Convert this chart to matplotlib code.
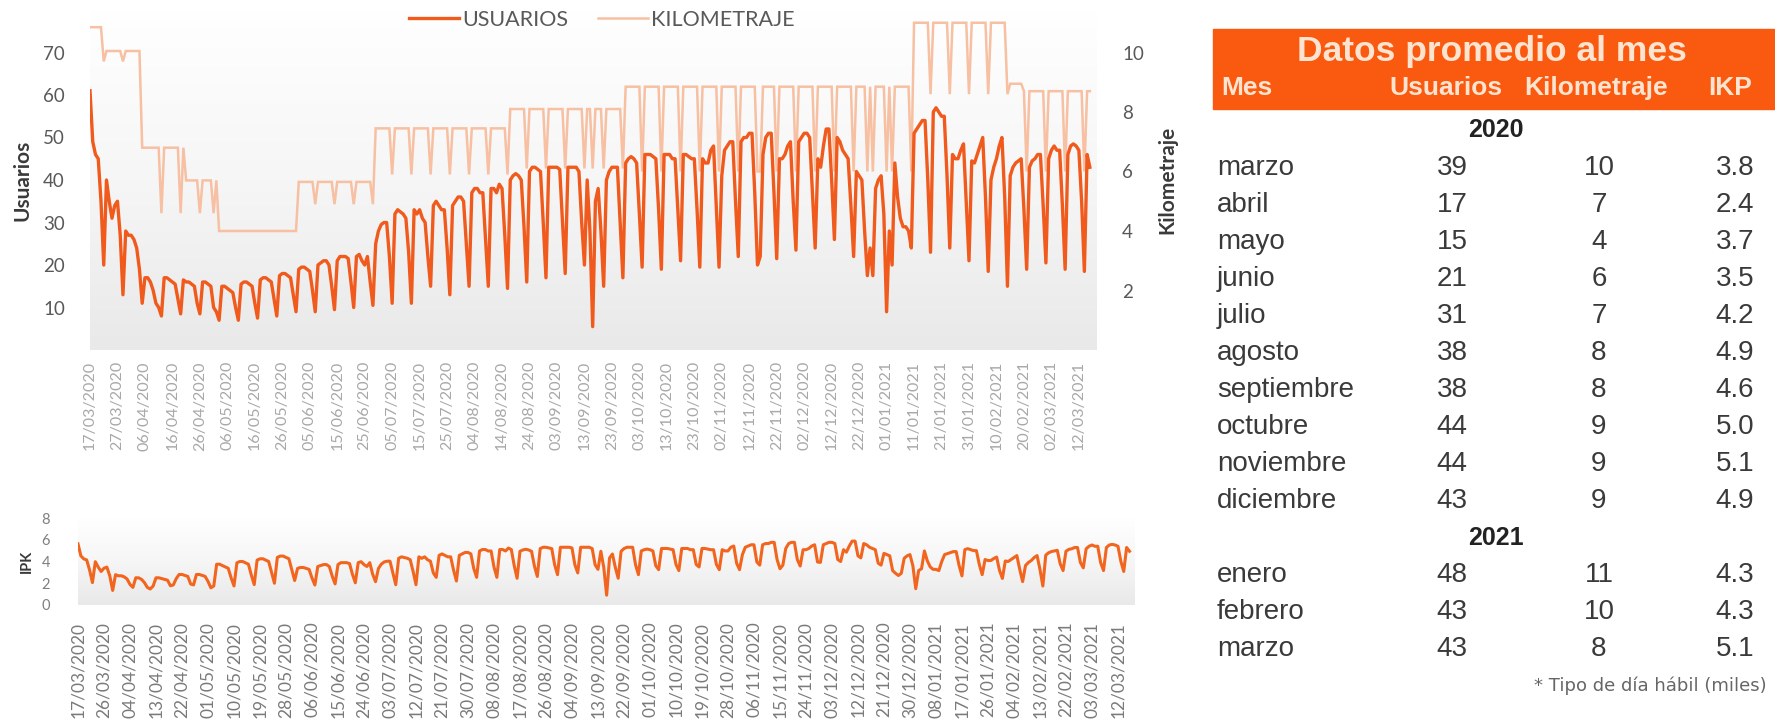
import datetime as dt
import numpy as np
import matplotlib
matplotlib.use('Agg')
import matplotlib.pyplot as plt
from matplotlib.colors import LinearSegmentedColormap
from matplotlib.lines import Line2D
from matplotlib.patches import Rectangle

plt.rcParams['font.family'] = ['Lato', 'DejaVu Sans']

inicio = dt.date(2020, 3, 17)

# usuarios diarios (miles), una fila por semana lunes..domingo
usuarios_sem = [
    [61, 49, 46, 45, 35, 20],
    [40, 35, 31, 34, 35, 27, 13],
    [28, 27, 27, 26, 24, 19, 11],
    [17, 17, 16, 14, 11, 10, 8],
    [17, 17, 16.5, 16, 15.5, 12, 8.5],
    [16.5, 16, 16, 15.5, 15, 11, 8.5],
    [16, 16, 15.5, 15, 10, 9, 7],
    [15, 15, 14.5, 14, 13.5, 10, 7],
    [15.5, 16, 16, 15.5, 15, 11, 7.5],
    [16.5, 17, 17, 16.5, 16, 12, 8],
    [17.5, 18, 18, 17.5, 17, 13, 9],
    [19, 19.5, 19.5, 19, 18.5, 14, 9],
    [20, 20.5, 21, 21, 20, 15, 9.5],
    [21, 22, 22, 22, 21.5, 16, 10],
    [22, 22.5, 21, 20, 22, 16, 10.5],
    [25, 28, 29.5, 30, 30, 22, 11],
    [32, 33, 32.5, 32, 31, 23, 11],
    [33, 32, 33, 31, 30, 22, 15],
    [34, 35, 34, 33, 33, 24, 13],
    [34, 35, 36, 36, 35, 25, 15],
    [37, 38, 38, 37, 37, 26, 15],
    [38, 38, 37, 39, 38, 27, 14.5],
    [40, 41, 41.5, 41, 40, 29, 16],
    [42, 43, 43, 42.5, 42, 30, 17],
    [43, 43, 43, 43, 42.5, 30, 18],
    [43, 43, 43, 43, 42, 30, 20],
    [40, 28, 5.5, 35, 38, 28, 15],
    [40, 42, 43, 43, 43, 30, 17],
    [44, 45, 45.5, 45, 44, 32, 19.5],
    [46, 46, 46, 45.5, 45, 33, 19],
    [46, 46, 46, 45, 45, 33, 21],
    [46, 46, 45.5, 45, 45, 33, 19.5],
    [45, 44, 44, 47, 48, 34, 19.5],
    [41, 47, 48, 49, 49, 35, 22],
    [49, 50, 50, 51, 51, 37, 20],
    [22, 46, 50, 51, 51, 37, 21.5],
    [45, 45, 46, 48, 49, 35, 23.5],
    [49, 50, 51, 51, 50, 37, 24],
    [45, 43, 48, 52, 52, 40, 26],
    [50, 49, 47, 46, 45, 34, 22],
    [42, 41, 40, 28, 17.5, 24, 17.5],
    [38, 40, 41, 32, 9, 28, 20],
    [44, 36, 31, 29, 29, 28, 24],
    [51, 52, 53, 54, 54, 40, 23],
    [56, 57, 56, 55, 55, 41, 24],
    [46, 45, 45, 47, 48.5, 35, 21],
    [44.5, 44, 46, 48, 50, 36, 18.5],
    [40, 43, 45, 48, 50, 36, 15],
    [41, 43, 44, 44.5, 45, 33, 19],
    [43, 44.5, 45, 46, 46, 34, 20.5],
    [45, 47, 48, 47, 47, 34, 19],
    [46, 48, 48.5, 48, 47, 35, 18.5],
    [46, 43],
]

# kilometraje diario (miles de km), misma estructura
km_sem = [
    [10.85, 10.85, 10.85, 10.85, 10.85, 9.7],
    [10.05, 10.05, 10.05, 10.05, 10.05, 10.05, 9.7],
    [10.05, 10.05, 10.05, 10.05, 10.05, 10.05, 6.8],
    [6.8, 6.8, 6.8, 6.8, 6.8, 6.8, 4.6],
    [6.8, 6.8, 6.8, 6.8, 6.8, 6.8, 4.6],
    [6.8, 5.7, 5.7, 5.7, 5.7, 5.7, 4.6],
    [5.7, 5.7, 5.7, 5.7, 4.6, 5.7, 4.0],
    [4.0, 4.0, 4.0, 4.0, 4.0, 4.0, 4.0],
    [4.0, 4.0, 4.0, 4.0, 4.0, 4.0, 4.0],
    [4.0, 4.0, 4.0, 4.0, 4.0, 4.0, 4.0],
    [4.0, 4.0, 4.0, 4.0, 4.0, 4.0, 4.0],
    [5.65, 5.65, 5.65, 5.65, 5.65, 5.65, 4.9],
    [5.65, 5.65, 5.65, 5.65, 5.65, 5.65, 4.9],
    [5.65, 5.65, 5.65, 5.65, 5.65, 5.65, 4.9],
    [5.65, 5.65, 5.65, 5.65, 5.65, 5.65, 4.9],
    [7.45, 7.45, 7.45, 7.45, 7.45, 7.45, 5.9],
    [7.45, 7.45, 7.45, 7.45, 7.45, 7.45, 5.9],
    [7.45, 7.45, 7.45, 7.45, 7.45, 7.45, 5.9],
    [7.45, 7.45, 7.45, 7.45, 7.45, 7.45, 5.9],
    [7.45, 7.45, 7.45, 7.45, 7.45, 7.45, 5.9],
    [7.45, 7.45, 7.45, 7.45, 7.45, 7.45, 5.9],
    [7.45, 7.45, 7.45, 7.45, 7.45, 7.45, 5.9],
    [8.1, 8.1, 8.1, 8.1, 8.1, 8.1, 6.1],
    [8.1, 8.1, 8.1, 8.1, 8.1, 8.1, 6.1],
    [8.1, 8.1, 8.1, 8.1, 8.1, 8.1, 6.1],
    [8.1, 8.1, 8.1, 8.1, 8.1, 8.1, 6.1],
    [8.1, 8.1, 6.1, 8.1, 8.1, 8.1, 6.1],
    [8.1, 8.1, 8.1, 8.1, 8.1, 8.1, 6.1],
    [8.85, 8.85, 8.85, 8.85, 8.85, 8.85, 6.0],
    [8.85, 8.85, 8.85, 8.85, 8.85, 8.85, 6.0],
    [8.85, 8.85, 8.85, 8.85, 8.85, 8.85, 6.0],
    [8.85, 8.85, 8.85, 8.85, 8.85, 8.85, 6.0],
    [8.85, 8.85, 8.85, 8.85, 8.85, 8.85, 6.0],
    [8.85, 8.85, 8.85, 8.85, 8.85, 8.85, 6.0],
    [8.85, 8.85, 8.85, 8.85, 8.85, 8.85, 6.0],
    [6.0, 8.85, 8.85, 8.85, 8.85, 8.85, 6.0],
    [8.85, 8.85, 8.85, 8.85, 8.85, 8.85, 6.0],
    [8.85, 8.85, 8.85, 8.85, 8.85, 8.85, 6.0],
    [8.85, 8.85, 8.85, 8.85, 8.85, 8.85, 6.0],
    [8.85, 8.85, 8.85, 8.85, 8.85, 8.85, 6.0],
    [8.85, 8.85, 8.85, 8.85, 6.0, 8.85, 6.0],
    [8.85, 8.85, 8.85, 8.85, 6.0, 8.85, 6.0],
    [8.85, 8.85, 8.85, 8.85, 8.85, 8.85, 6.0],
    [11.0, 11.0, 11.0, 11.0, 11.0, 11.0, 8.6],
    [11.0, 11.0, 11.0, 11.0, 11.0, 11.0, 8.6],
    [11.0, 11.0, 11.0, 11.0, 11.0, 11.0, 8.6],
    [11.0, 11.0, 11.0, 11.0, 11.0, 11.0, 8.6],
    [11.0, 11.0, 11.0, 11.0, 11.0, 11.0, 8.6],
    [8.95, 8.95, 8.95, 8.95, 8.95, 8.7, 6.0],
    [8.7, 8.7, 8.7, 8.7, 8.7, 8.7, 6.0],
    [8.7, 8.7, 8.7, 8.7, 8.7, 8.7, 6.0],
    [8.7, 8.7, 8.7, 8.7, 8.7, 8.7, 6.0],
    [8.7, 8.7],
]

# promedios mensuales, dia habil (miles)
meses_2020 = ['marzo', 'abril', 'mayo', 'junio', 'julio', 'agosto',
              'septiembre', 'octubre', 'noviembre', 'diciembre']
usu_2020 = [39, 17, 15, 21, 31, 38, 38, 44, 44, 43]
km_2020 = [10, 7, 4, 6, 7, 8, 8, 9, 9, 9]
ipk_2020 = ['3.8', '2.4', '3.7', '3.5', '4.2', '4.9', '4.6', '5.0', '5.1', '4.9']
meses_2021 = ['enero', 'febrero', 'marzo']
usu_2021 = [48, 43, 43]
km_2021 = [11, 10, 8]
ipk_2021 = ['4.3', '4.3', '5.1']

usuarios = np.concatenate([np.array(w, float) for w in usuarios_sem])
kilometraje = np.concatenate([np.array(w, float) for w in km_sem])
ipk = usuarios / kilometraje
dias = np.arange(len(usuarios))

def etiqueta(d):
    return (inicio + dt.timedelta(days=int(d))).strftime('%d/%m/%Y')

W, H = 1775, 720
fig = plt.figure(figsize=(W / 100, H / 100), dpi=100)

def caja(x0, y0, x1, y1):
    return [x0 / W, 1 - y1 / H, (x1 - x0) / W, (y1 - y0) / H]

fondo = LinearSegmentedColormap.from_list('fondo', ['#E9E9E9', '#F6F6F6', '#FFFFFF'])
grad = np.linspace(0, 1, 256).reshape(-1, 1)

naranja = '#F05A1C'
durazno = '#F7C0A2'

# ---- grafica superior: usuarios y kilometraje
ax = fig.add_axes(caja(90, 10, 1097, 350))
ax2 = ax.twinx()
ax.set_zorder(2)
ax2.set_zorder(1)
ax.patch.set_visible(False)

ax2.imshow(grad, extent=[0, 1, 0, 1], transform=ax2.transAxes, aspect='auto',
           cmap=fondo, origin='lower', zorder=0)
ax2.plot(dias, kilometraje, color=durazno, lw=1.8, solid_joinstyle='miter', zorder=2)
ax.plot(dias, usuarios, color=naranja, lw=2.4, solid_joinstyle='round', zorder=3)

ax.set_xlim(0, 366.6)
ax2.set_xlim(0, 366.6)
ax.set_ylim(0, 80)
ax2.set_ylim(0, 80 / 7)
ax.set_yticks(range(10, 80, 10))
ax2.set_yticks(range(2, 12, 2))

ticks_sup = np.arange(0, 361, 10)
ax.set_xticks(ticks_sup)
ax.set_xticklabels([etiqueta(d) for d in ticks_sup], rotation=90)
ax.tick_params(axis='x', length=0, pad=8, labelsize=11.5, labelcolor='#A8A8A8')
ax.tick_params(axis='y', length=0, pad=18, labelsize=13.5, labelcolor='#595959')
ax2.tick_params(axis='y', length=0, pad=18, labelsize=13.5, labelcolor='#595959')
ax2.tick_params(axis='x', length=0, labelbottom=False)

for a in (ax, ax2):
    for s in a.spines.values():
        s.set_visible(False)

ax.set_ylabel('Usuarios', fontsize=15, fontweight='bold', color='#3A3A3A', labelpad=8)
ax2.set_ylabel('Kilometraje', fontsize=15, fontweight='bold', color='#3A3A3A',
               rotation=90, labelpad=10)

manejadores = [Line2D([], [], color=naranja, lw=2.4),
               Line2D([], [], color=durazno, lw=1.8)]
fig.legend(manejadores, ['USUARIOS', 'KILOMETRAJE'], loc='center',
           bbox_to_anchor=(602 / W, 1 - 20 / H), ncol=2, frameon=False,
           fontsize=15.5, handlelength=2.3, handletextpad=0.15, columnspacing=1.4,
           labelcolor='#595959')

# ---- grafica inferior: IPK
axb = fig.add_axes(caja(78, 518, 1135, 605))
axb.imshow(grad, extent=[0, 1, 0, 1], transform=axb.transAxes, aspect='auto',
           cmap=fondo, origin='lower', zorder=0)
axb.plot(dias, ipk, color='#F2651E', lw=2.2, solid_joinstyle='round', zorder=2)
axb.set_xlim(0, 365.9)
axb.set_ylim(0, 8)
axb.set_yticks(range(0, 9, 2))
ticks_inf = np.arange(0, 361, 9)
axb.set_xticks(ticks_inf)
axb.set_xticklabels([etiqueta(d) for d in ticks_inf], rotation=90)
axb.tick_params(axis='x', length=0, pad=12, labelsize=12.5, labelcolor='#7A7A7A')
axb.tick_params(axis='y', length=0, pad=20, labelsize=10.5, labelcolor='#7F7F7F')
for s in axb.spines.values():
    s.set_visible(False)
axb.set_ylabel('IPK', fontsize=10.5, fontweight='bold', color='#3A3A3A', labelpad=6)

# ---- tabla de promedios
def fx(x):
    return x / W

def fy(y):
    return 1 - y / H

fig.patches.append(Rectangle((fx(1213), fy(109)), fx(1775) - fx(1213), fy(29) - fy(109),
                             transform=fig.transFigure, color='#F95A10', zorder=0))
tabla = dict(family='Liberation Sans')
claro = '#FDE4D0'
fig.text(fx(1492), fy(52), 'Datos promedio al mes', ha='center', va='center',
         fontsize=25.5, fontweight='bold', color=claro, **tabla)
fig.text(fx(1221), fy(88), 'Mes', ha='left', va='center', fontsize=19,
         fontweight='bold', color=claro, **tabla)
for texto, x in [('Usuarios', 1446), ('Kilometraje', 1596), ('IKP', 1730)]:
    fig.text(fx(x), fy(88), texto, ha='center', va='center', fontsize=19,
             fontweight='bold', color=claro, **tabla)

oscuro = '#3A3A3A'

def fila(y, mes, u, k, i):
    fig.text(fx(1217), fy(y), mes, ha='left', va='center', fontsize=20, color=oscuro, **tabla)
    fig.text(fx(1452), fy(y), str(u), ha='center', va='center', fontsize=20, color=oscuro, **tabla)
    fig.text(fx(1599), fy(y), str(k), ha='center', va='center', fontsize=20, color=oscuro, **tabla)
    fig.text(fx(1735), fy(y), i, ha='center', va='center', fontsize=20, color=oscuro, **tabla)

fig.text(fx(1496), fy(130), '2020', ha='center', va='center', fontsize=18,
         fontweight='bold', color='#222222', **tabla)
y = 168
for m, u, k, i in zip(meses_2020, usu_2020, km_2020, ipk_2020):
    fila(y, m, u, k, i)
    y += 37
fig.text(fx(1496), fy(538), '2021', ha='center', va='center', fontsize=18,
         fontweight='bold', color='#222222', **tabla)
y = 575
for m, u, k, i in zip(meses_2021, usu_2021, km_2021, ipk_2021):
    fila(y, m, u, k, i)
    y += 37

fig.text(fx(1767), fy(686), '* Tipo de día hábil (miles)', ha='right', va='center',
         fontsize=13, color='#666666', family='DejaVu Sans')

fig.savefig('out.png', dpi=100)
